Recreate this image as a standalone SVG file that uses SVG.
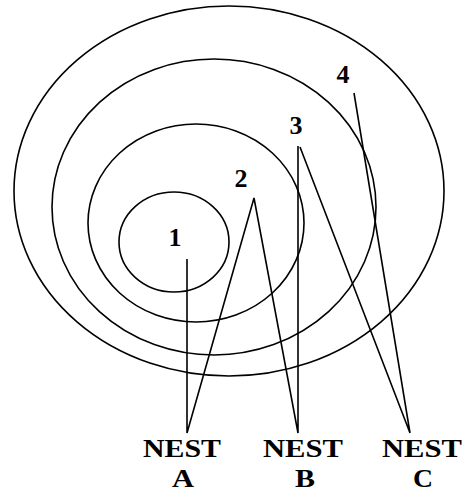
<svg xmlns="http://www.w3.org/2000/svg" width="468" height="497" viewBox="0 0 468 497">
<style>
.ring{fill:none;stroke:#000;stroke-width:1.6}
.ln{fill:none;stroke:#000;stroke-width:1.6}
.num{font-family:"Liberation Serif","Times New Roman",serif;font-weight:bold;font-size:26px;text-anchor:middle;fill:#000}
.lab{font-family:"Liberation Serif","Times New Roman",serif;font-weight:bold;font-size:25px;text-anchor:middle;fill:#000}
</style>
<rect width="468" height="497" fill="#fff"/>
<g id="ring4"><ellipse class="ring" cx="229" cy="191" rx="215" ry="185"/></g>
<g id="ring3"><ellipse class="ring" cx="214" cy="207" rx="162" ry="148"/></g>
<g id="ring2"><ellipse class="ring" cx="196" cy="223" rx="108" ry="99"/></g>
<g id="ring1"><ellipse class="ring" cx="174" cy="242" rx="55" ry="50"/></g>
<g id="connectors">
<polyline class="ln" points="187,259 187,433 254,198 298,433 298,146"/>
<polyline class="ln" points="300,147 410,433 354,93"/>
</g>
<g id="labels-numbers">
<text class="num" x="175" y="246">1</text>
<text class="num" x="241" y="187">2</text>
<text class="num" x="296" y="134">3</text>
<text class="num" x="343" y="83">4</text>
</g>
<g id="nestA"><text class="lab" x="182" y="457" textLength="78" lengthAdjust="spacingAndGlyphs">NEST</text><text class="lab" x="183" y="487" textLength="22" lengthAdjust="spacingAndGlyphs">A</text></g>
<g id="nestB"><text class="lab" x="303" y="457" textLength="80" lengthAdjust="spacingAndGlyphs">NEST</text><text class="lab" x="305" y="487" textLength="20" lengthAdjust="spacingAndGlyphs">B</text></g>
<g id="nestC"><text class="lab" x="422" y="457" textLength="80" lengthAdjust="spacingAndGlyphs">NEST</text><text class="lab" x="423" y="487" textLength="20" lengthAdjust="spacingAndGlyphs">C</text></g>
</svg>
